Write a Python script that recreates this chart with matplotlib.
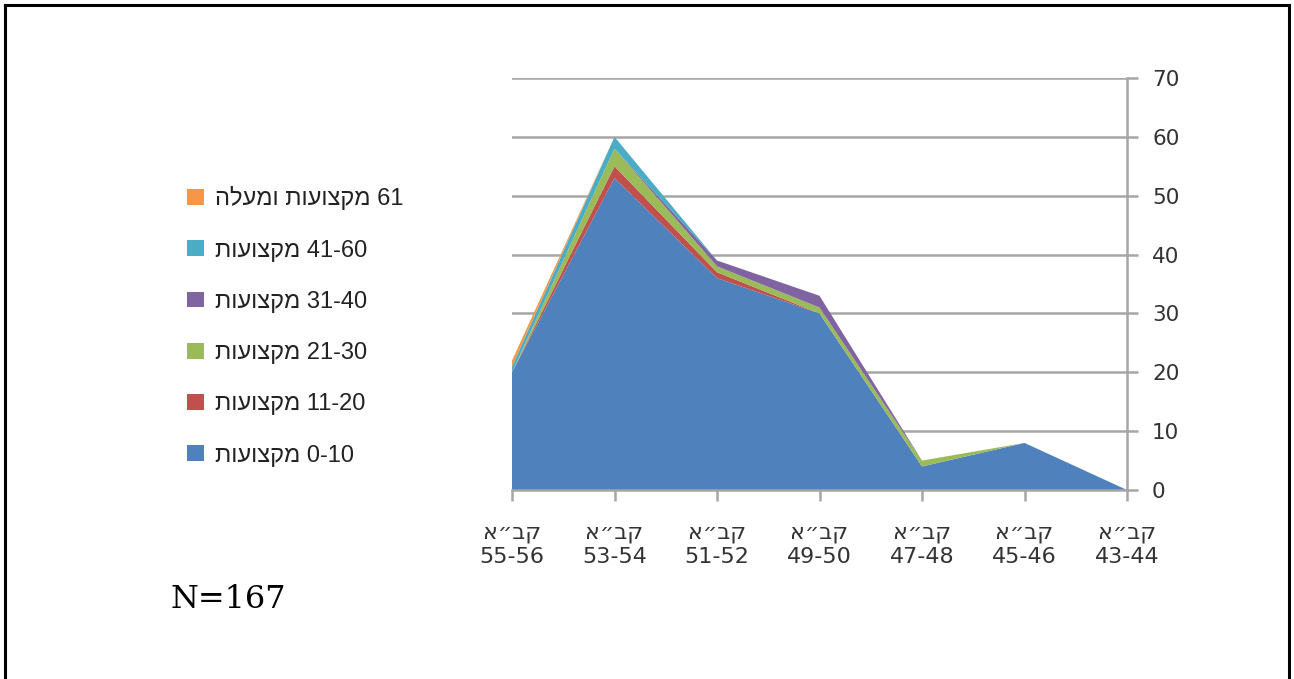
import matplotlib
matplotlib.use("Agg")
import matplotlib.pyplot as plt
from matplotlib.patches import Patch
import numpy as np

# Hebrew strings are stored in visual (left-to-right) order, since matplotlib has no bidi
years = ["55-56", "53-54", "51-52", "49-50", "47-48", "45-46", "43-44"]
year_prefix = "א״בק"

series_labels = [
    "תועוצקמ 0-10",
    "תועוצקמ 11-20",
    "תועוצקמ 21-30",
    "תועוצקמ 31-40",
    "תועוצקמ 41-60",
    "הלעמו תועוצקמ 61",
]
s_0_10 = [20, 53, 36, 30, 4, 8, 0]
s_11_20 = [0, 2, 1, 0, 0, 0, 0]
s_21_30 = [0, 3, 1, 1, 1, 0, 0]
s_31_40 = [0, 0, 1, 2, 0, 0, 0]
s_41_60 = [1, 2, 0, 0, 0, 0, 0]
s_61_up = [1, 0, 0, 0, 0, 0, 0]
n_total = 167

colors = ["#4F81BD", "#C0504D", "#9BBB59", "#8064A2", "#4BACC6", "#F79646"]

plt.rcParams["font.family"] = ["DejaVu Sans", "Liberation Sans"]

fig = plt.figure(figsize=(12.94, 6.79), dpi=100)
ax = fig.add_axes([512 / 1294, (679 - 490) / 679, 615 / 1294, 412 / 679])

x = np.arange(len(years))
ax.stackplot(x, s_0_10, s_11_20, s_21_30, s_31_40, s_41_60, s_61_up,
             colors=colors, lw=0, zorder=2)

ax.set_xlim(0, len(years) - 1)
ax.set_ylim(0, 70)
ax.set_yticks(range(0, 71, 10))
ax.yaxis.tick_right()
ax.grid(axis="y", color="#A6A6A6", lw=1.8, zorder=0)
ax.set_axisbelow(True)

for side in ["top", "left"]:
    ax.spines[side].set_visible(False)
for side in ["right", "bottom"]:
    ax.spines[side].set_color("#A6A6A6")
    ax.spines[side].set_linewidth(1.8)

ax.tick_params(axis="y", length=8, width=1.8, color="#A6A6A6", pad=10,
               labelsize=15.5, labelcolor="#333333")
ax.set_xticks(x)
ax.set_xticklabels([f"{year_prefix}\n{y}" for y in years], fontsize=16,
                   color="#333333", linespacing=1.2)
ax.tick_params(axis="x", length=8, width=1.8, color="#A6A6A6", pad=16)

handles = [Patch(facecolor=c, edgecolor="none") for c in colors]
fig.legend(handles[::-1], series_labels[::-1], loc="upper left",
           bbox_to_anchor=(166 / 1294, 1 - 165 / 679), frameon=False,
           prop={"family": ["Liberation Sans", "DejaVu Sans"], "size": 17},
           labelspacing=1.24, handlelength=0.72, handleheight=0.66,
           handletextpad=0.45, labelcolor="#222222")

fig.text(171 / 1294, 1 - 608 / 679, f"N={n_total}", fontsize=23,
         family="DejaVu Serif", va="baseline", color="black")

# outer frame (open at the bottom edge)
fig.add_artist(plt.Line2D([5 / 1294, 5 / 1294], [0, 1 - 5 / 679],
                          transform=fig.transFigure, color="black", lw=2.2))
fig.add_artist(plt.Line2D([5 / 1294, 1289 / 1294], [1 - 5 / 679, 1 - 5 / 679],
                          transform=fig.transFigure, color="black", lw=2.2))
fig.add_artist(plt.Line2D([1289 / 1294, 1289 / 1294], [0, 1 - 5 / 679],
                          transform=fig.transFigure, color="black", lw=2.2))

fig.savefig("out.png", dpi=100)
